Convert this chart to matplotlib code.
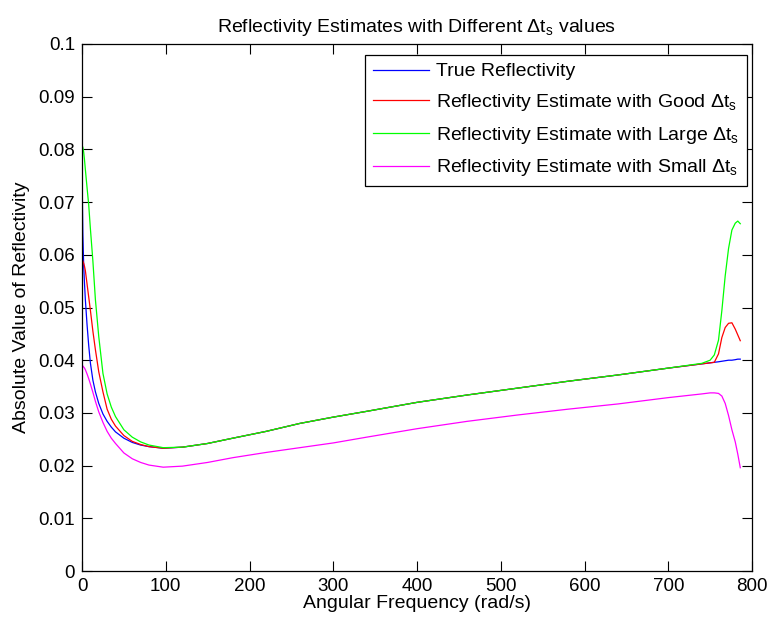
import matplotlib
matplotlib.use("Agg")
import matplotlib.pyplot as plt

# angular frequency grid (rad/s)
freq = [0, 0.5, 1, 2, 3, 4, 6, 8, 10, 13, 16, 20, 25, 30, 35, 40, 50, 60, 70, 80,
        97, 120, 150, 180, 220, 260, 300, 340, 400, 460, 520, 580, 640, 700, 740,
        750, 755, 760, 764, 768, 772, 776, 780, 783, 786]

true_refl = [0.0800, 0.0700, 0.0640, 0.0580, 0.0545, 0.0515, 0.0468, 0.0428, 0.0395,
             0.0362, 0.0340, 0.0318, 0.0298, 0.0284, 0.0273, 0.0264, 0.0252, 0.0244,
             0.0239, 0.0236, 0.0233, 0.0235, 0.0242, 0.0252, 0.0265, 0.0280, 0.0292,
             0.0303, 0.0320, 0.0334, 0.0347, 0.0360, 0.0372, 0.0385, 0.0393, 0.0395,
             0.0396, 0.0397, 0.0398, 0.0399, 0.0400, 0.0400, 0.0401, 0.0402, 0.0402]

good_refl = [0.0590, 0.0590, 0.0588, 0.0584, 0.0578, 0.0570, 0.0545, 0.0520, 0.0495,
             0.0455, 0.0420, 0.0378, 0.0340, 0.0307, 0.0288, 0.0275, 0.0257, 0.0246,
             0.0240, 0.0236, 0.0233, 0.0235, 0.0242, 0.0252, 0.0265, 0.0280, 0.0292,
             0.0303, 0.0320, 0.0334, 0.0347, 0.0360, 0.0372, 0.0385, 0.0393, 0.0395,
             0.0396, 0.0412, 0.0443, 0.0462, 0.0470, 0.0471, 0.0459, 0.0448, 0.0437]

large_refl = [0.0806, 0.0806, 0.0804, 0.0795, 0.0780, 0.0762, 0.0728, 0.0695, 0.0650,
              0.0588, 0.0515, 0.0445, 0.0375, 0.0336, 0.0311, 0.0293, 0.0268, 0.0254,
              0.0245, 0.0239, 0.0234, 0.0235, 0.0242, 0.0252, 0.0265, 0.0280, 0.0292,
              0.0303, 0.0320, 0.0334, 0.0347, 0.0360, 0.0372, 0.0385, 0.0394, 0.0400,
              0.0410, 0.0438, 0.0494, 0.0560, 0.0612, 0.0647, 0.0660, 0.0664, 0.0659]

small_refl = [0.0390, 0.0390, 0.0389, 0.0387, 0.0385, 0.0382, 0.0374, 0.0365, 0.0355,
              0.0339, 0.0322, 0.0302, 0.0282, 0.0265, 0.0252, 0.0242, 0.0224, 0.0213,
              0.0206, 0.0201, 0.0197, 0.0199, 0.0206, 0.0215, 0.0225, 0.0234, 0.0243,
              0.0254, 0.0270, 0.0284, 0.0296, 0.0307, 0.0317, 0.0329, 0.0336, 0.0338,
              0.0338, 0.0337, 0.0332, 0.0318, 0.0295, 0.0268, 0.0245, 0.0222, 0.0196]

x_ticks = [0, 100, 200, 300, 400, 500, 600, 700, 800]
y_ticks = [0, 0.01, 0.02, 0.03, 0.04, 0.05, 0.06, 0.07, 0.08, 0.09, 0.1]
y_tick_labels = ["0", "0.01", "0.02", "0.03", "0.04", "0.05", "0.06",
                 "0.07", "0.08", "0.09", "0.1"]

plt.rcParams["font.family"] = ["Liberation Sans", "DejaVu Sans"]
plt.rcParams["mathtext.default"] = "regular"
plt.rcParams["font.size"] = 14

fig = plt.figure(figsize=(7.71, 6.26), dpi=100)
ax = fig.add_axes([82 / 771, 55 / 626, 670 / 771, 527 / 626])

ax.plot(freq, true_refl, color="#0000ff", linewidth=0.9, label="True Reflectivity")
ax.plot(freq, good_refl, color="#ff0000", linewidth=0.9,
        label=r"Reflectivity Estimate with Good $\Delta t_s$")
ax.plot(freq, large_refl, color="#00ff00", linewidth=0.9,
        label=r"Reflectivity Estimate with Large $\Delta t_s$")
ax.plot(freq, small_refl, color="#ff00ff", linewidth=0.9,
        label=r"Reflectivity Estimate with Small $\Delta t_s$")

ax.set_xlim(0, 800)
ax.set_ylim(0, 0.1)
ax.set_xticks(x_ticks)
ax.set_yticks(y_ticks)
ax.set_yticklabels(y_tick_labels)
ax.tick_params(direction="in", top=True, right=True, length=7, width=0.8,
               labelsize=13.5, pad=5)
for s in ax.spines.values():
    s.set_linewidth(0.9)

ax.set_xlabel("Angular Frequency (rad/s)", labelpad=0)
ax.set_ylabel("Absolute Value of Reflectivity", labelpad=6)
ax.set_title(r"Reflectivity Estimates with Different $\Delta t_s$ values", fontsize=14, pad=9)

leg = ax.legend(loc="upper right", bbox_to_anchor=(747 / 771, 1 - 55 / 626),
                bbox_transform=fig.transFigure, borderaxespad=0,
                fancybox=False, framealpha=1, edgecolor="black",
                fontsize=14, handlelength=2.9, handletextpad=0.35, labelspacing=0.6,
                borderpad=0.4)
leg.get_frame().set_linewidth(0.9)

fig.savefig("out.png", dpi=100)
